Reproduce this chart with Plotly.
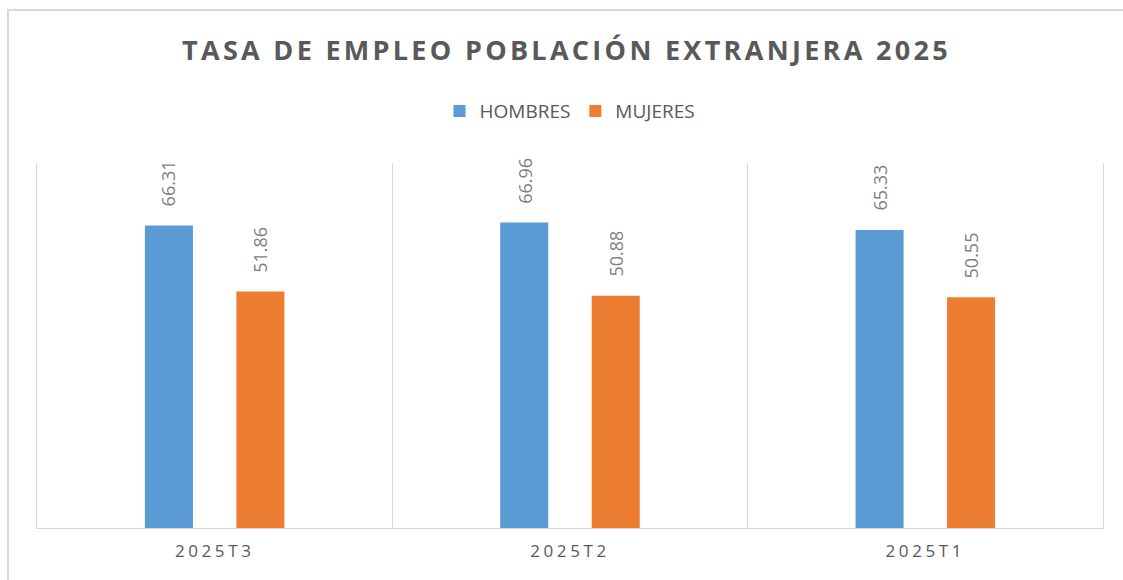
import plotly.graph_objects as go

categories = ["2025T3", "2025T2", "2025T1"]
hombres = [66.31, 66.96, 65.33]
mujeres = [51.86, 50.88, 50.55]
series_names = ["HOMBRES", "MUJERES"]
title_text = "TASA DE EMPLEO POBLACIÓN EXTRANJERA 2025"

BLUE = "#5B9BD5"
ORANGE = "#ED7D31"
GRID = "#D9D9D9"
FONT = "Open Sans"

fig = go.Figure()
for name, vals, col in [(series_names[0], hombres, BLUE), (series_names[1], mujeres, ORANGE)]:
    fig.add_trace(go.Bar(name=name, x=categories, y=vals, marker_color=col,
                         marker_line_width=0, hoverinfo="skip"))

# data labels, rotated, above each bar
offset = 45.75
for vals, xs in [(hombres, -offset), (mujeres, offset)]:
    for c, v in zip(categories, vals):
        fig.add_annotation(x=c, y=v, text=f"{v:.2f}", showarrow=False, textangle=-90,
                           xshift=xs, yshift=17, yanchor="bottom", xanchor="center",
                           font=dict(family=FONT, size=18, color="#7F7F7F"))

fig.update_layout(
    width=1123, height=580,
    paper_bgcolor="white", plot_bgcolor="white",
    margin=dict(l=37, r=20, t=163, b=52),
    barmode="group", bargap=0.485, bargroupgap=0.475,
    title=dict(text=f'<span style="letter-spacing:3.3px">{title_text}</span>',
               x=566.5 / 1123, xanchor="center", y=1 - 51 / 580, yanchor="middle", yref="container",
               font=dict(family=FONT, size=27, color="#595959", weight="bold")),
    legend=dict(orientation="h", x=0.5, xanchor="center", y=1.142, yanchor="middle",
                font=dict(family=FONT, size=19, color="#595959"),
                itemsizing="constant", itemwidth=30, traceorder="normal"),
    showlegend=True,
    xaxis=dict(type="category", tickson="boundaries", showgrid=True, gridcolor=GRID, gridwidth=1,
               showline=True, linecolor=GRID, linewidth=1, ticks="",
               tickvals=categories,
               ticktext=[f'<span style="letter-spacing:3.6px">{c}</span>' for c in categories],
               tickfont=dict(family=FONT, size=17, color="#595959"),
               ticklabelstandoff=8, fixedrange=True),
    yaxis=dict(range=[0, 80], showgrid=False, showticklabels=False, zeroline=False,
               showline=True, linecolor=GRID, linewidth=1, mirror=True, fixedrange=True),
    shapes=[dict(type="rect", xref="paper", yref="paper", x0=-0.0272, y0=-0.3, x1=1.05, y1=1.419,
                 line=dict(color=GRID, width=2), fillcolor="rgba(0,0,0,0)", layer="below")],
)

fig.write_html("out.html", config={"displayModeBar": False},
               post_script="document.body.style.margin='0';")
